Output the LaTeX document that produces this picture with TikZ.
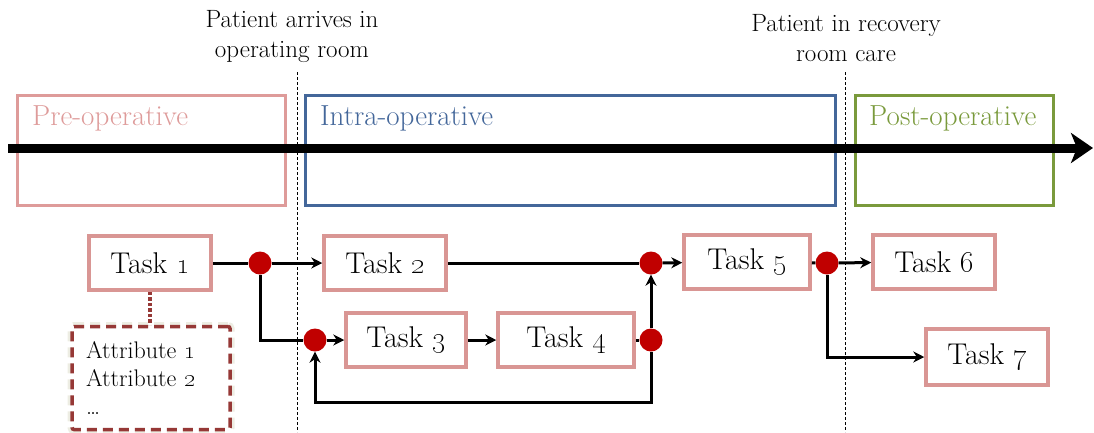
\documentclass[tikz,border=0pt]{standalone}
\usetikzlibrary{arrows.meta}

\definecolor{taskpink}{HTML}{D99694}
\definecolor{prepink}{HTML}{DE9B9A}
\definecolor{intrablue}{HTML}{44679A}
\definecolor{postgreen}{HTML}{7A9A3C}
\definecolor{dotred}{HTML}{C00000}
\definecolor{attrred}{HTML}{963836}

\tikzset{
	x=1pt, y=-1pt,
	task/.style={draw=taskpink, line width=3.5pt, fill=white, minimum width=122pt, minimum height=54pt, inner sep=0pt, font=\fontsize{30}{34}\selectfont},
	junction/.style={circle, fill=dotred, inner sep=0pt, minimum width=22pt, minimum height=23pt},
	link/.style={line width=3pt},
	flow/.style={line width=3pt, -{Stealth[length=11pt,width=11pt]}},
	phase/.style={line width=3pt, minimum height=110pt, inner sep=0pt},
	phasetext/.style={anchor=west, inner sep=0pt, font=\fontsize{29}{32}\selectfont},
	event/.style={align=center, inner sep=0pt, font=\fontsize{25}{30}\selectfont},
	separator/.style={dash pattern=on 3pt off 2pt, line width=1pt},
	timeline/.style={line width=9pt, -{Stealth[length=22pt,width=30pt,inset=6pt]}},
	attrbox/.style={draw=attrred, line width=3.5pt, dash pattern=on 10pt off 6pt, rounded corners=2pt, fill=white,
		preaction={draw=olive!30!gray!35, line width=9pt, opacity=0.45},
		minimum width=158pt, minimum height=103pt, text width=130pt, inner xsep=14pt, align=left,
		font=\fontsize{24}{28}\selectfont},
	attrlink/.style={draw=attrred, line width=3.5pt, dotted},
}

\begin{document}
\begin{tikzpicture}
	\useasboundingbox (0,0) rectangle (1094,432);

	% events
	\node[event] (arrive) at (292,37) {Patient arrives in\\operating room};
	\node[event] (recover) at (846,38) {Patient in recovery\\room care};

	% phases
	\node[phase, draw=prepink, minimum width=268pt] (pre) at (151,150) {};
	\node[phase, draw=intrablue, minimum width=530pt] (intra) at (570,150) {};
	\node[phase, draw=postgreen, minimum width=198pt] (post) at (954,150) {};
	\node[phasetext, text=prepink] (pretext) at (32,118) {Pre-operative};
	\node[phasetext, text=intrablue] (intratext) at (320,118) {Intra-operative};
	\node[phasetext, text=postgreen] (posttext) at (869,118) {Post-operative};

	\draw[timeline] (8,148) -- (1093,148);
	\draw[separator] (297,72) -- (297,432);
	\draw[separator] (845,72) -- (845,432);

	% tasks
	\node[task] (t1) at (150,263) {Task \oldstylenums{1}};
	\node[task] (t2) at (385,263) {Task \oldstylenums{2}};
	\node[task, minimum width=120pt] (t3) at (406,340) {Task \oldstylenums{3}};
	\node[task, minimum width=136pt] (t4) at (566,340) {Task \oldstylenums{4}};
	\node[task, minimum width=126pt] (t5) at (747,262) {Task \oldstylenums{5}};
	\node[task] (t6) at (934,262) {Task \oldstylenums{6}};
	\node[task, minimum height=56pt] (t7) at (987,357) {Task \oldstylenums{7}};

	% junctions
	\node[junction] (j1) at (260,263) {};
	\node[junction] (j2) at (315,340) {};
	\node[junction] (j3) at (651,263) {};
	\node[junction] (j4) at (651,340) {};
	\node[junction] (j5) at (827,263) {};

	% attributes
	\node[attrbox] (attr) at (151,378) {Attribute \oldstylenums{1}\\Attribute \oldstylenums{2}\\\dots};
	\draw[attrlink] (t1.south) -- (t1.south |- attr.north);

	% connectors
	\draw[link] (t1) -- (j1);
	\draw[flow] (j1) -- (t2);
	\draw[link] (j1) |- (j2);
	\draw[flow] (j2) -- (t3);
	\draw[flow] (t3) -- (t4);
	\draw[link] (t4) -- (j4);
	\draw[flow] (j4) -- (j3);
	\draw[flow] (j4) -- ++(0,62) -| (j2);
	\draw[link] (t2) -- (j3);
	\draw[flow] (j3) -- (t5);
	\draw[link] (t5) -- (j5);
	\draw[flow] (j5) -- (t6);
	\draw[flow] (j5) |- (t7);
\end{tikzpicture}
\end{document}
